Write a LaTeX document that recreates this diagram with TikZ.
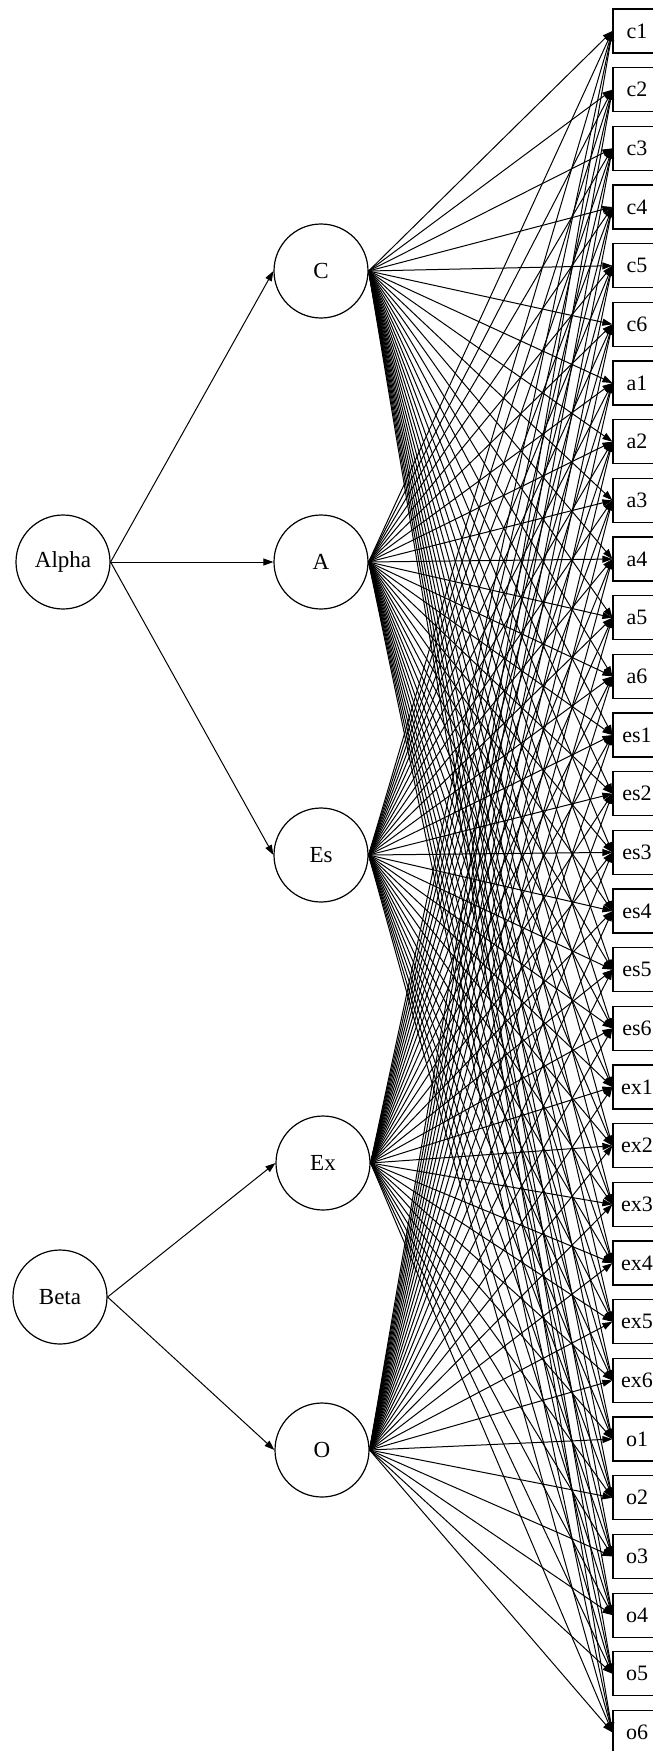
\documentclass[tikz,border=0pt]{standalone}
\usepackage{fontspec}
\setmainfont{Liberation Serif}
\usetikzlibrary{arrows.meta}
\begin{document}
\begin{tikzpicture}[x=1pt, y=-1pt,
  latent/.style={draw, circle, line width=1.2pt, minimum size=94pt, inner sep=0pt,
                 font=\fontsize{23}{27}\selectfont},
  obs/.style={draw, rectangle, line width=1.2pt, minimum width=48pt, minimum height=44pt,
              inner sep=0pt, font=\fontsize{22}{26}\selectfont},
  edge/.style={line width=1pt, -{Triangle[length=10pt, width=7pt]}}]
\clip (0,0) rectangle (653,1751);
\useasboundingbox (0,0) rectangle (653,1751);

% higher-order factors
\node[latent] (Alpha) at (63,562) {Alpha};
\node[latent] (Beta)  at (60,1297) {Beta};

% first-order factors
\node[latent] (C)  at (321,271)  {C};
\node[latent] (A)  at (321,562)  {A};
\node[latent] (Es) at (321,855)  {Es};
\node[latent] (Ex) at (323,1163) {Ex};
\node[latent] (O)  at (322,1450) {O};

% indicators
\foreach \n [count=\i from 0] in {c1,c2,c3,c4,c5,c6,a1,a2,a3,a4,a5,a6,
    es1,es2,es3,es4,es5,es6,ex1,ex2,ex3,ex4,ex5,ex6,o1,o2,o3,o4,o5,o6}
  \node[obs] (\n) at (637,{31+58.67*\i}) {\n};

% structural paths
\foreach \t in {C,A,Es} \draw[edge] (Alpha.east) -- (\t.west);
\foreach \t in {Ex,O} \draw[edge] (Beta.east) -- (\t.west);

% loadings: every factor on every indicator
\foreach \f in {C,A,Es,Ex,O}
  \foreach \t in {c1,c2,c3,c4,c5,c6,a1,a2,a3,a4,a5,a6,
      es1,es2,es3,es4,es5,es6,ex1,ex2,ex3,ex4,ex5,ex6,o1,o2,o3,o4,o5,o6}
    \draw[edge] (\f.east) -- (\t.west);
\end{tikzpicture}
\end{document}
